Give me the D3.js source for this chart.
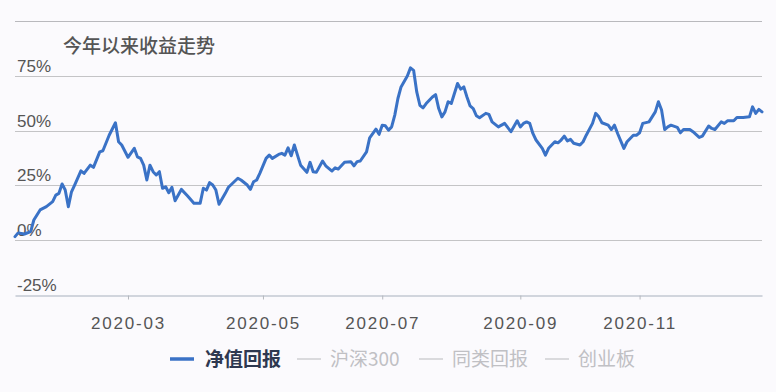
<!DOCTYPE html>
<html>
<head>
  <meta charset="utf-8">
  <script src="https://d3js.org/d3.v7.min.js"></script>
  <style>
    body { margin: 0; background: #fbfafd; }
    text { font-family: 'Liberation Sans', 'Noto Sans CJK SC', sans-serif; }
    .cjk { font-family: 'Noto Sans CJK SC', sans-serif; }
  </style>
</head>
<body>
  <div id="chart"></div>
  <script>
    var width = 776;
    var height = 392;

    // trading-day index (category axis) of each traced point
    var dayIndex = [
      0, 1, 3, 5, 6, 8, 10, 12, 13, 14, 15, 16, 17, 18, 19, 21, 22, 24, 25, 27,
      28, 30, 32, 33, 34, 36, 38, 39, 40, 41, 42, 43, 44, 45, 46, 47, 48, 49, 50, 51,
      53, 55, 57, 59, 60, 61, 62, 63, 64, 65, 67, 68, 71, 72, 74, 75, 76, 77, 78, 80,
      81, 82, 84, 85, 86, 87, 88, 89, 90, 91, 93, 94, 95, 96, 98, 99, 101, 102, 103, 105,
      107, 108, 109, 110, 112, 113, 115, 116, 117, 118, 119, 120, 121, 122, 123, 125, 126, 127, 128, 129,
      130, 131, 133, 134, 135, 136, 137, 138, 139, 140, 141, 142, 143, 144, 145, 146, 147, 148, 150, 151,
      152, 154, 155, 156, 158, 160, 161, 162, 163, 164, 165, 166, 168, 169, 170, 172, 173, 174, 175, 176,
      177, 178, 180, 181, 182, 184, 185, 186, 187, 189, 190, 191, 192, 194, 195, 197, 198, 199, 200, 202,
      203, 204, 205, 206, 207, 208, 209, 211, 212, 213, 215, 216, 218, 219, 221, 222, 223, 225, 226, 227,
      229, 230, 232, 234, 235, 236, 237, 238
    ];

    // 净值回报 (%)
    var navReturn = [
      1.5, 3.2, 2.7, 3.8, 9.1, 13.7, 15.2, 17.5, 20.5, 21.3, 25.6, 22.8, 15.2, 22.0, 25.1, 31.6, 30.4, 34.2, 33.2, 40.3,
      40.8, 47.9, 53.6, 44.9, 43.4, 37.8, 41.9, 38.0, 37.3, 34.2, 27.4, 34.2, 31.2, 29.7, 31.2, 23.6, 24.3, 21.6, 24.1, 17.9,
      23.1, 20.1, 16.8, 16.8, 23.6, 22.8, 26.2, 25.1, 22.8, 16.3, 21.3, 24.1, 28.2, 27.4, 25.1, 23.1, 26.6, 27.4, 30.4, 37.3,
      38.8, 37.3, 39.1, 39.6, 38.8, 42.1, 38.5, 43.4, 38.8, 34.2, 30.9, 35.5, 31.2, 30.9, 36.1, 33.9, 31.5, 33.0, 32.4, 35.5,
      35.8, 33.9, 35.8, 36.1, 40.3, 46.7, 50.7, 48.3, 52.5, 52.2, 50.2, 51.7, 57.1, 64.7, 70.0, 75.0, 78.7, 77.6, 67.7, 61.6,
      60.4, 62.4, 65.4, 66.5, 60.1, 56.3, 58.6, 63.2, 62.4, 67.0, 71.6, 69.0, 70.0, 65.4, 61.3, 60.1, 56.8, 55.9, 57.9, 57.4,
      54.0, 51.7, 52.5, 53.3, 49.5, 54.5, 51.7, 53.3, 54.0, 53.3, 48.7, 45.7, 41.9, 38.8, 41.9, 44.9, 44.4, 45.7, 47.5, 45.3,
      46.0, 44.2, 43.4, 44.9, 47.9, 53.3, 57.9, 56.3, 53.6, 52.5, 50.5, 52.5, 48.7, 41.9, 44.9, 47.9, 47.9, 49.0, 53.3, 54.0,
      56.3, 58.6, 63.2, 59.4, 50.5, 51.7, 52.5, 51.5, 49.0, 50.5, 50.5, 49.5, 46.9, 47.5, 52.1, 51.0, 50.5, 54.0, 53.3, 54.5,
      54.5, 56.0, 56.0, 56.3, 60.9, 57.9, 59.7, 58.6
    ];

    var yTicks = [-25, 0, 25, 50, 75];
    var xTickIndex = [36, 79, 117, 161, 199];
    var xTickLabels = ["2020-03", "2020-05", "2020-07", "2020-09", "2020-11"];
    var legendNames = ["净值回报", "沪深300", "同类回报", "创业板"];

    var points = dayIndex.map(function (d, i) { return { i: d, v: navReturn[i] }; });

    var x = d3.scaleLinear().domain([0, 238]).range([15, 762]);
    var y = d3.scaleLinear().domain([-25, 75]).range([294.5, 76]);

    var svg = d3.select("#chart").append("svg")
      .attr("width", width)
      .attr("height", height);

    svg.append("rect")
      .attr("width", width).attr("height", height)
      .attr("fill", "#fbfafd");

    // top rule
    svg.append("line")
      .attr("x1", 15).attr("x2", 762)
      .attr("y1", 21.5).attr("y2", 21.5)
      .attr("stroke", "#b9b9bd").attr("stroke-width", 1.2);

    svg.append("text")
      .attr("class", "cjk")
      .attr("x", 63).attr("y", 53)
      .attr("font-size", 19)
      .attr("font-weight", 500)
      .attr("fill", "#555")
      .text("今年以来收益走势");

    // gridlines
    svg.append("g").selectAll("line")
      .data(yTicks.filter(function (d) { return d !== -25; }))
      .enter().append("line")
      .attr("x1", 15).attr("x2", 762)
      .attr("y1", function (d) { return Math.round(y(d)) + 0.5; })
      .attr("y2", function (d) { return Math.round(y(d)) + 0.5; })
      .attr("stroke", "#c4c4c6").attr("stroke-width", 1.2);

    // bottom axis
    var xAxis = d3.axisBottom(x)
      .tickValues(xTickIndex)
      .tickFormat(function (d, i) { return xTickLabels[i]; })
      .tickSize(4)
      .tickSizeOuter(0);

    var axisG = svg.append("g")
      .attr("transform", "translate(0," + (Math.round(y(-25)) + 0.5) + ")")
      .call(xAxis);
    axisG.select(".domain").attr("stroke", "#c3c8d2").attr("stroke-width", 1.5);
    axisG.selectAll(".tick line").attr("stroke", "#b5b8be");
    axisG.selectAll(".tick text")
      .attr("y", 21)
      .attr("font-size", 17)
      .attr("letter-spacing", 1.8)
      .attr("font-family", "'Liberation Sans', sans-serif")
      .attr("fill", "#555");

    // y labels
    svg.append("g").selectAll("text")
      .data(yTicks)
      .enter().append("text")
      .attr("x", 17)
      .attr("y", function (d) { return y(d) - 4; })
      .attr("font-size", 17)
      .attr("fill", "#555")
      .text(function (d) { return d < 0 ? "-" + Math.abs(d) + "%" : d + "%"; });

    var line = d3.line()
      .x(function (d) { return x(d.i); })
      .y(function (d) { return y(d.v); })
      .curve(d3.curveLinear);

    svg.append("path")
      .datum(points)
      .attr("fill", "none")
      .attr("stroke", "#3a72c6")
      .attr("stroke-width", 3)
      .attr("stroke-linejoin", "round")
      .attr("stroke-linecap", "round")
      .attr("d", line);

    // legend
    var legendX = [170, 297, 419, 545];
    var legend = svg.append("g").selectAll("g")
      .data(legendNames)
      .enter().append("g")
      .attr("transform", function (d, i) { return "translate(" + legendX[i] + ",359)"; });

    legend.append("line")
      .attr("x1", 0).attr("x2", 24)
      .attr("stroke", function (d, i) { return i === 0 ? "#3a72c6" : "#cfcfd2"; })
      .attr("stroke-width", function (d, i) { return i === 0 ? 3.5 : 1.5; });

    legend.append("text")
      .attr("class", "cjk")
      .attr("x", function (d, i) { return i === 0 ? 35 : 33; })
      .attr("y", 7)
      .attr("font-size", 19)
      .attr("font-weight", function (d, i) { return i === 0 ? 700 : 400; })
      .attr("fill", function (d, i) { return i === 0 ? "#2e3850" : "#c0c0c4"; })
      .text(function (d) { return d; });
  </script>
</body>
</html>
